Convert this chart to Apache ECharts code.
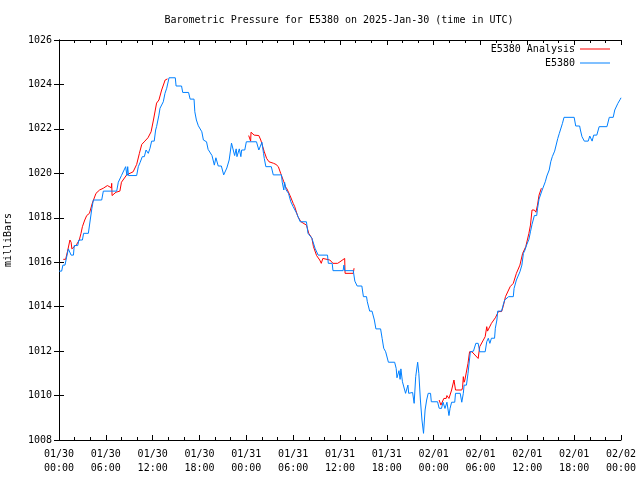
<!DOCTYPE html>
<html>
<head>
<meta charset="utf-8">
<script src="https://cdn.jsdelivr.net/npm/echarts@6/dist/echarts.min.js"></script>
<style>html,body{margin:0;padding:0;background:#fff}#c{width:640px;height:480px}</style>
</head>
<body>
<div id="c"></div>
<script>
// Hours since 2025-01-30 00:00 UTC, and pressure in milliBars
var blueHours = [0,0.34,0.5,0.77,0.9,1.2,1.41,1.55,1.85,1.95,2.4,2.55,3.0,3.15,3.76,4.0,4.2,4.4,5.47,5.68,7.39,7.6,8.0,8.24,8.54,8.7,8.8,8.9,9.95,10.16,10.38,10.67,10.93,11.15,11.44,11.66,11.87,12.2,12.38,12.5,12.7,12.8,12.94,13.15,13.36,13.58,13.8,14.1,14.9,15.0,15.7,15.85,16.6,16.8,17.3,17.4,17.6,17.85,18.06,18.3,18.5,18.9,19.1,19.6,19.9,20.1,20.4,20.8,21.1,21.5,21.8,22.1,22.5,22.7,22.8,23.1,23.3,23.4,23.8,24.0,25.3,25.6,25.8,26.0,26.2,26.3,26.5,27.2,27.45,28.5,28.6,28.8,28.9,29.1,29.4,29.7,30.0,30.45,30.9,31.7,31.9,32.4,32.8,33.2,34.4,34.5,35.0,35.1,36.4,36.5,36.6,37.7,37.8,37.9,38.2,38.8,39.0,39.4,39.5,39.8,40.1,40.4,40.6,41.2,41.4,41.6,41.85,42.2,43.0,43.2,43.3,43.56,43.7,43.8,44.0,44.4,44.7,44.8,45.3,45.5,45.7,45.95,46.1,46.3,46.5,46.7,46.9,47.1,47.3,47.6,47.7,48.5,48.7,49.0,49.2,49.45,49.7,49.96,50.1,50.3,50.7,50.8,51.4,51.6,51.8,51.9,52.2,52.4,52.7,52.9,53.1,53.4,53.7,53.9,54.6,54.8,55.0,55.2,55.4,55.8,55.9,56.1,56.2,56.7,56.9,57.1,57.6,58.2,58.3,58.6,59.05,59.3,59.5,59.7,59.9,60.2,60.4,60.6,60.9,61.2,61.3,61.5,61.7,61.9,62.05,62.3,62.5,62.7,62.8,63.0,63.2,63.5,63.7,63.9,64.1,64.3,64.5,64.7,66.0,66.2,66.7,66.8,67.0,67.3,67.8,68.0,68.3,68.5,68.9,69.2,70.2,70.5,71.0,71.2,71.45,71.6,71.9,72.0];
var bluePressure = [1015.6,1015.6,1015.87,1015.87,1016.1,1016.6,1016.6,1016.32,1016.32,1016.75,1016.75,1017.0,1017.0,1017.3,1017.3,1017.9,1018.4,1018.8,1018.8,1019.2,1019.2,1019.6,1019.9,1019.9,1020.3,1019.9,1020.3,1019.9,1019.9,1020.3,1020.48,1020.75,1020.75,1021.05,1020.9,1021.13,1021.45,1021.45,1021.95,1022.1,1022.1,1022.62,1022.93,1022.93,1023.22,1023.6,1023.83,1024.3,1024.3,1023.93,1023.93,1023.64,1023.64,1023.34,1023.34,1022.77,1022.4,1022.14,1022.14,1021.87,1021.5,1021.42,1021.08,1020.8,1020.37,1020.7,1020.33,1020.33,1019.93,1020.24,1020.6,1021.36,1020.8,1021.1,1020.75,1021.1,1020.75,1021.05,1021.05,1021.42,1021.42,1021.05,1021.05,1021.4,1020.9,1020.67,1020.3,1020.3,1019.93,1019.93,1019.6,1019.25,1019.6,1019.25,1019.1,1018.72,1018.5,1018.2,1017.82,1017.82,1017.3,1017.08,1016.63,1016.32,1016.32,1015.95,1015.95,1015.62,1015.62,1015.87,1015.62,1015.62,1015.38,1015.15,1014.93,1014.93,1014.45,1014.45,1014.22,1013.8,1013.8,1013.4,1013.0,1013.0,1012.57,1012.13,1011.97,1011.5,1011.5,1011.22,1010.8,1011.12,1010.73,1011.2,1010.62,1010.1,1010.47,1010.1,1010.14,1009.65,1010.85,1011.5,1011.0,1009.8,1008.9,1008.3,1009.35,1009.8,1010.1,1010.1,1009.72,1009.72,1009.43,1009.42,1009.7,1009.42,1009.7,1009.1,1009.42,1009.7,1009.7,1010.1,1010.1,1009.7,1010.1,1010.47,1010.47,1011.0,1011.97,1011.97,1012.0,1012.35,1012.35,1011.97,1011.97,1012.42,1012.58,1012.35,1012.58,1012.58,1013.03,1013.4,1013.8,1013.8,1014.07,1014.3,1014.45,1014.45,1014.82,1015.2,1015.57,1015.87,1016.4,1016.55,1016.77,1017.03,1017.37,1017.7,1018.1,1018.1,1018.4,1018.84,1018.84,1019.25,1019.25,1019.62,1019.88,1019.88,1020.15,1020.52,1020.75,1021.0,1021.0,1021.57,1021.8,1021.8,1022.25,1022.52,1022.52,1022.13,1022.13,1021.95,1021.65,1021.45,1021.45,1021.68,1021.45,1021.72,1021.72,1022.1,1022.1,1022.52,1022.52,1022.85,1022.85,1023.15,1023.33,1023.4];

var redHours = [0.55,0.85,1.1,1.4,1.55,1.65,1.83,2.26,2.6,2.82,3.0,3.3,3.55,3.9,4.27,4.74,5.2,5.68,6.2,6.7,6.75,6.8,7.3,7.8,8.0,8.67,9.5,9.95,10.3,10.6,11.0,11.4,11.8,12.1,12.5,12.8,13.15,13.6,13.9,
  14.0,
  24.3,24.5,24.55,24.6,25.0,25.6,25.85,26.1,26.3,26.6,26.9,27.5,27.8,28.1,28.4,28.8,29.0,29.2,29.6,30.0,30.2,30.6,31.0,31.7,32.0,32.4,32.6,33.0,33.4,33.6,33.8,34.7,35.1,35.7,36.0,36.6,36.65,37.7,37.8,
  40.0,
  48.7,48.93,49.3,49.6,49.7,49.96,50.3,50.6,50.8,51.6,51.7,51.8,51.9,52.0,52.4,52.6,52.9,53.7,53.9,54.6,54.8,54.9,55.4,55.9,56.3,56.7,56.9,57.2,57.8,58.2,58.6,59.05,59.4,59.8,60.2,60.4,60.6,60.9,61.1,61.3,61.5,61.8];
var redPressure = [1016.13,1016.13,1016.5,1017.0,1016.9,1016.6,1016.64,1016.8,1017.0,1017.3,1017.6,1017.9,1018.1,1018.2,1018.66,1019.1,1019.25,1019.33,1019.45,1019.35,1019.55,1019.0,1019.15,1019.2,1019.6,1019.93,1020.07,1020.4,1020.9,1021.3,1021.45,1021.6,1021.87,1022.4,1023.16,1023.3,1023.75,1024.2,1024.25,
  null,
  1021.7,1021.7,1021.45,1021.85,1021.72,1021.7,1021.5,1021.2,1020.97,1020.67,1020.52,1020.45,1020.4,1020.3,1020.0,1019.62,1019.4,1019.3,1019.0,1018.65,1018.5,1018.05,1017.82,1017.67,1017.3,1017.08,1016.7,1016.3,1016.1,1015.95,1016.17,1016.1,1015.95,1015.95,1016.02,1016.17,1015.5,1015.5,1015.73,
  null,
  1009.8,1009.57,1009.87,1009.87,1010.0,1009.87,1010.25,1010.7,1010.25,1010.25,1010.35,1010.85,1010.6,1010.7,1011.45,1011.97,1011.97,1011.67,1012.2,1012.65,1013.1,1012.9,1013.25,1013.5,1013.78,1013.78,1014.0,1014.45,1014.9,1015.05,1015.5,1015.87,1016.4,1016.7,1017.3,1017.67,1018.35,1018.35,1018.25,1018.57,1019.02,1019.33];

var xTickLabels = ['01/30\n00:00','01/30\n06:00','01/30\n12:00','01/30\n18:00','01/31\n00:00','01/31\n06:00','01/31\n12:00','01/31\n18:00','02/01\n00:00','02/01\n06:00','02/01\n12:00','02/01\n18:00','02/02\n00:00'];

function pairs(xs, ys) {
  var out = [];
  for (var i = 0; i < xs.length; i++) out.push([xs[i], ys[i] === null ? '-' : ys[i]]);
  return out;
}

var FONT = 'DejaVu Sans Mono';
var chart = echarts.init(document.getElementById('c'), null, {renderer: 'canvas'});
var axisLine = {show: true, lineStyle: {color: '#000', width: 1}};
var xBase = {
  type: 'value', min: 0, max: 72, interval: 6,
  axisLine: axisLine,
  axisTick: {show: true, inside: true, length: 5, lineStyle: {color: '#000'}},
  minorTick: {show: true, splitNumber: 3, length: 3, lineStyle: {color: '#000'}},
  splitLine: {show: false}
};
var yBase = {
  type: 'value', min: 1008, max: 1026, interval: 2,
  axisLine: axisLine,
  axisTick: {show: true, inside: true, length: 5, lineStyle: {color: '#000'}},
  splitLine: {show: false}
};
chart.setOption({
  animation: false,
  backgroundColor: '#fff',
  title: {
    text: 'Barometric Pressure for E5380 on 2025-Jan-30 (time in UTC)',
    left: 339, top: 15, textAlign: 'center', padding: 0,
    textStyle: {fontFamily: FONT, fontSize: 10, fontWeight: 'normal', color: '#000'}
  },
  legend: [
    {data: ['E5380 Analysis'], right: 30, top: 44, padding: 0, align: 'right', icon: 'rect', itemWidth: 30, itemHeight: 1, itemGap: 5,
     textStyle: {fontFamily: FONT, fontSize: 10, color: '#000'}},
    {data: ['E5380'], right: 30, top: 58, padding: 0, align: 'right', icon: 'rect', itemWidth: 30, itemHeight: 1, itemGap: 5,
     textStyle: {fontFamily: FONT, fontSize: 10, color: '#000'}}
  ],
  grid: {left: 59, right: 19, top: 40, bottom: 40, containLabel: false, outerBoundsMode: 'none'},
  xAxis: [
    Object.assign({}, xBase, {position: 'bottom',
      axisLabel: {show: true, margin: 7, fontFamily: FONT, fontSize: 10, color: '#000', lineHeight: 14,
        formatter: function (v) { return xTickLabels[Math.round(v / 6)]; }}}),
    Object.assign({}, xBase, {position: 'top', axisLabel: {show: false}})
  ],
  yAxis: [
    Object.assign({}, yBase, {position: 'left',
      name: 'milliBars', nameLocation: 'middle', nameGap: 46, nameRotate: 90,
      nameTextStyle: {fontFamily: FONT, fontSize: 10, color: '#000'},
      axisLabel: {show: true, margin: 7, fontFamily: FONT, fontSize: 10, color: '#000',
        formatter: function (v) { return String(v); }}}),
    Object.assign({}, yBase, {position: 'right', axisLabel: {show: false}})
  ],
  series: [
    {name: 'E5380 Analysis', type: 'line', xAxisIndex: 0, yAxisIndex: 0, data: pairs(redHours, redPressure),
     symbol: 'none', showSymbol: false, connectNulls: false, color: '#ff0000', lineStyle: {color: '#ff0000', width: 1}, itemStyle: {color: '#ff0000'}},
    {name: 'E5380', type: 'line', xAxisIndex: 0, yAxisIndex: 0, data: pairs(blueHours, bluePressure),
     symbol: 'none', showSymbol: false, color: '#0080ff', lineStyle: {color: '#0080ff', width: 1}, itemStyle: {color: '#0080ff'}}
  ]
});
</script>
</body>
</html>
